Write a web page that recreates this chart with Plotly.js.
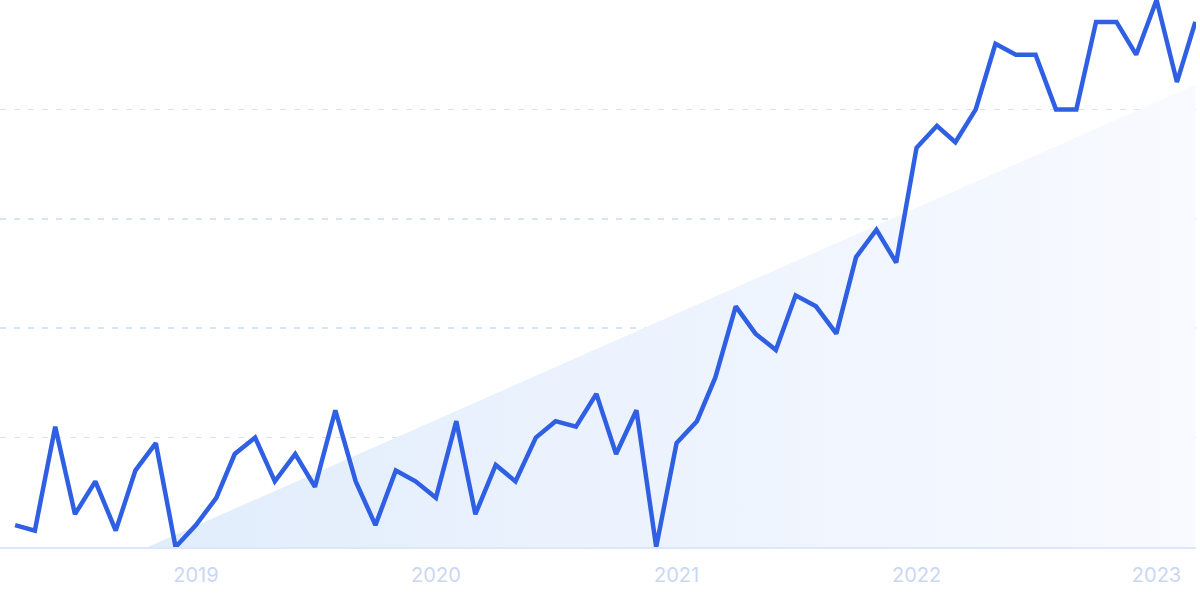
<!DOCTYPE html>
<html>
<head>
<meta charset="utf-8">
<script src="https://cdn.plot.ly/plotly-3.0.1.min.js"></script>
<style>html,body{margin:0;padding:0;background:#fff;}#chart{width:1200px;height:599px;}</style>
</head>
<body>
<div id="chart"></div>
<script>
const months = [
 "2018-04-01","2018-05-01","2018-06-01","2018-07-01","2018-08-01","2018-09-01","2018-10-01","2018-11-01","2018-12-01",
 "2019-01-01","2019-02-01","2019-03-01","2019-04-01","2019-05-01","2019-06-01","2019-07-01","2019-08-01","2019-09-01","2019-10-01","2019-11-01","2019-12-01",
 "2020-01-01","2020-02-01","2020-03-01","2020-04-01","2020-05-01","2020-06-01","2020-07-01","2020-08-01","2020-09-01","2020-10-01","2020-11-01","2020-12-01",
 "2021-01-01","2021-02-01","2021-03-01","2021-04-01","2021-05-01","2021-06-01","2021-07-01","2021-08-01","2021-09-01","2021-10-01","2021-11-01","2021-12-01",
 "2022-01-01","2022-02-01","2022-03-01","2022-04-01","2022-05-01","2022-06-01","2022-07-01","2022-08-01","2022-09-01","2022-10-01","2022-11-01","2022-12-01",
 "2023-01-01","2023-02-01","2023-03-01"
];
const interest = [
 4,3,22,6,12,3,14,19,0,
 4,9,17,20,12,17,11,25,12,4,14,12,
 9,23,6,15,12,20,23,22,28,17,25,0,
 19,23,31,44,39,36,46,44,39,53,58,52,
 73,77,74,80,92,90,90,80,80,96,96,90,
 100,85,96
];
const trendDates = ["2018-04-01","2023-03-01"];
const trendValues = [-10.7, 84.5];
const tickVals = ["2019-01-01","2020-01-01","2021-01-01","2022-01-01","2023-01-01"];
const tickText = ["2019","2020","2021","2022","2023"];

const traces = [
 {
  x: trendDates, y: trendValues, type: "scatter", mode: "lines",
  line: {width: 0, color: "rgba(0,0,0,0)"},
  fill: "tozeroy",
  fillcolor: "rgba(227,238,251,0.9)",
  fillgradient: {type: "horizontal", colorscale: [[0, "rgb(222,235,251)"], [0.6, "rgb(238,244,254)"], [1, "rgb(248,250,255)"]]},
  hoverinfo: "skip", showlegend: false
 },
 {
  x: months, y: interest, type: "scatter", mode: "lines",
  line: {color: "#2f5fe3", width: 4.5, shape: "linear"},
  cliponaxis: false, showlegend: false
 }
];

const layout = {
 width: 1200, height: 599,
 margin: {l: 0, r: 4, t: 0, b: 52},
 paper_bgcolor: "#ffffff", plot_bgcolor: "#ffffff",
 showlegend: false,
 xaxis: {
  type: "date", range: ["2018-03-09", "2023-03-02"],
  tickvals: tickVals, ticktext: tickText,
  showgrid: false, zeroline: false,
  showline: true, linecolor: "#dbe7fa", linewidth: 2,
  ticks: "", tickfont: {family: "Inter, Roboto, sans-serif", size: 20, color: "#cad7f4"},
  ticklabelstandoff: 9
 },
 yaxis: {
  range: [0, 100], dtick: 20, showticklabels: false,
  showgrid: true, gridcolor: "#d6e4f9", griddash: "6px,8px", gridwidth: 1.5,
  zeroline: false, showline: false, ticks: ""
 }
};
Plotly.newPlot("chart", traces, layout, {staticPlot: true, displayModeBar: false});
</script>
</body>
</html>
